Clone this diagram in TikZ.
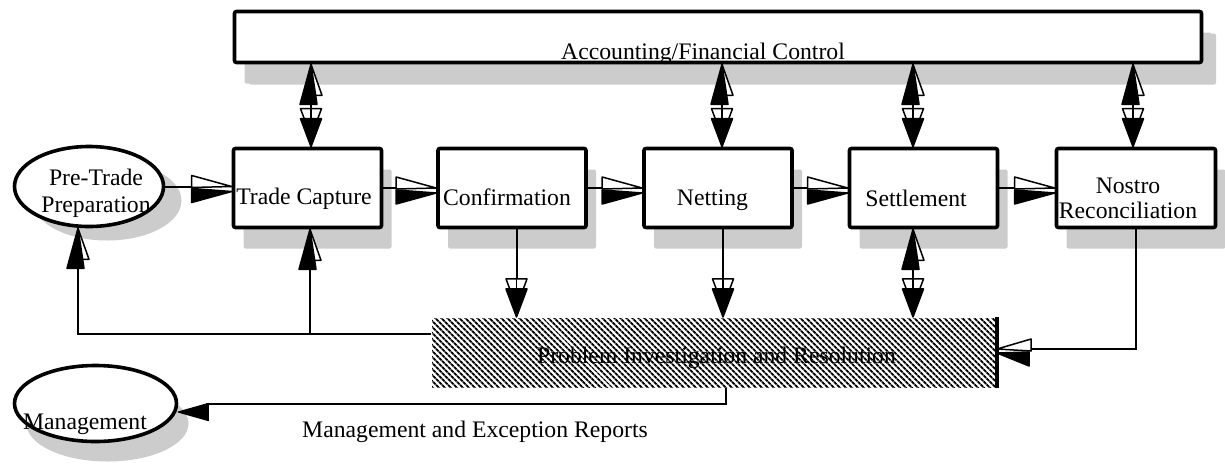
\documentclass[tikz,border=0pt]{standalone}
\usepackage{fontspec}
\setmainfont{Liberation Serif}
\usetikzlibrary{shapes.geometric,shadows,patterns.meta,arrows.meta}
\definecolor{shade}{HTML}{CCCCCC}

% right-pointing pair: open white head above, black head below
\pgfdeclarearrow{
  name = PairA,
  setup code = {
    \pgfarrowssettipend{0pt}
    \pgfarrowssetlineend{-38pt}
    \pgfarrowssetbackend{-40pt}
    \pgfarrowssetvisualbackend{-40pt}
  },
  drawing code = {
    \pgfsetlinewidth{1.5pt}\pgfsetroundjoin
    \pgfpathmoveto{\pgfqpoint{0pt}{0pt}}
    \pgfpathlineto{\pgfqpoint{-40pt}{11pt}}
    \pgfpathlineto{\pgfqpoint{-40pt}{-1pt}}
    \pgfpathclose
    \pgfsetfillcolor{white}
    \pgfusepathqfillstroke
    \pgfpathmoveto{\pgfqpoint{0pt}{-5pt}}
    \pgfpathlineto{\pgfqpoint{-40pt}{-2pt}}
    \pgfpathlineto{\pgfqpoint{-40pt}{-16pt}}
    \pgfpathclose
    \pgfsetfillcolor{black}
    \pgfusepathqfillstroke
  },
  parameters = {}
}
% mirrored pair
\pgfdeclarearrow{
  name = PairAm,
  setup code = {
    \pgfarrowssettipend{0pt}
    \pgfarrowssetlineend{-32pt}
    \pgfarrowssetbackend{-34pt}
    \pgfarrowssetvisualbackend{-34pt}
  },
  drawing code = {
    \pgfsetlinewidth{1.5pt}\pgfsetroundjoin
    \pgfpathmoveto{\pgfqpoint{0pt}{0pt}}
    \pgfpathlineto{\pgfqpoint{-34pt}{-10pt}}
    \pgfpathlineto{\pgfqpoint{-34pt}{2pt}}
    \pgfpathclose
    \pgfsetfillcolor{white}
    \pgfusepathqfillstroke
    \pgfpathmoveto{\pgfqpoint{0pt}{4pt}}
    \pgfpathlineto{\pgfqpoint{-32pt}{3pt}}
    \pgfpathlineto{\pgfqpoint{-32pt}{17pt}}
    \pgfpathclose
    \pgfsetfillcolor{black}
    \pgfusepathqfillstroke
  },
  parameters = {}
}
% up-pointing pair: black head, open white head to its right
\pgfdeclarearrow{
  name = PairB,
  setup code = {
    \pgfarrowssettipend{0pt}
    \pgfarrowssetlineend{-30pt}
    \pgfarrowssetbackend{-40pt}
    \pgfarrowssetvisualbackend{-40pt}
  },
  drawing code = {
    \pgfsetlinewidth{1.5pt}\pgfsetroundjoin
    \pgfpathmoveto{\pgfqpoint{0pt}{0pt}}
    \pgfpathlineto{\pgfqpoint{-31pt}{-1pt}}
    \pgfpathlineto{\pgfqpoint{-31pt}{-11pt}}
    \pgfpathclose
    \pgfsetfillcolor{white}
    \pgfusepathqfillstroke
    \pgfpathmoveto{\pgfqpoint{0pt}{0pt}}
    \pgfpathlineto{\pgfqpoint{-40pt}{11pt}}
    \pgfpathlineto{\pgfqpoint{-40pt}{-6pt}}
    \pgfpathclose
    \pgfsetfillcolor{black}
    \pgfusepathqfillstroke
  },
  parameters = {}
}
% down-pointing pair: open white head behind black head
\pgfdeclarearrow{
  name = PairC,
  setup code = {
    \pgfarrowssettipend{0pt}
    \pgfarrowssetlineend{-38pt}
    \pgfarrowssetbackend{-38pt}
    \pgfarrowssetvisualbackend{-38pt}
  },
  drawing code = {
    \pgfsetlinewidth{1.5pt}\pgfsetroundjoin
    \pgfpathmoveto{\pgfqpoint{-10pt}{0pt}}
    \pgfpathlineto{\pgfqpoint{-38pt}{10.5pt}}
    \pgfpathlineto{\pgfqpoint{-38pt}{-10.5pt}}
    \pgfpathclose
    \pgfsetfillcolor{white}
    \pgfusepathqfillstroke
    \pgfpathmoveto{\pgfqpoint{-38pt}{0pt}}
    \pgfpathlineto{\pgfqpoint{-26pt}{0pt}}
    \pgfusepathqstroke
    \pgfpathmoveto{\pgfqpoint{0pt}{0pt}}
    \pgfpathlineto{\pgfqpoint{-28pt}{10.5pt}}
    \pgfpathlineto{\pgfqpoint{-28pt}{-10.5pt}}
    \pgfpathclose
    \pgfsetfillcolor{black}
    \pgfusepathqfillstroke
  },
  parameters = {}
}
% single black head, set below the line
\pgfdeclarearrow{
  name = Solo,
  setup code = {
    \pgfarrowssettipend{0pt}
    \pgfarrowssetlineend{-28pt}
    \pgfarrowssetbackend{-30pt}
    \pgfarrowssetvisualbackend{-30pt}
  },
  drawing code = {
    \pgfsetlinewidth{1.2pt}\pgfsetroundjoin
    \pgfpathmoveto{\pgfqpoint{0pt}{8.5pt}}
    \pgfpathlineto{\pgfqpoint{-30pt}{0pt}}
    \pgfpathlineto{\pgfqpoint{-30pt}{17pt}}
    \pgfpathclose
    \pgfsetfillcolor{black}
    \pgfusepathqfillstroke
  },
  parameters = {}
}

\newcommand\placetext[3]{\raisebox{-#2}[0pt][0pt]{\makebox[0pt]{\hspace*{#1}\hspace*{#1}#3}}}

\begin{document}
\begin{tikzpicture}[x=1pt,y=-1pt,
  every node/.style={font=\fontsize{23.7pt}{25pt}\selectfont, inner sep=0pt},
  proc/.style={draw, line width=3.6pt, rounded corners=2pt, fill=white,
     minimum width=148pt, minimum height=79pt,
     general shadow={fill=shade, shadow xshift=10pt, shadow yshift=-21pt}},
  oval/.style={ellipse, draw, line width=3.6pt, fill=white},
  conn/.style={line width=2pt}]
\useasboundingbox (0,0) rectangle (1225,464);

\node[proc, minimum width=967pt, minimum height=51pt,
      general shadow={fill=shade, shadow xshift=14.5pt, shadow yshift=-22pt}]
  (acc) at (718,37) {\placetext{-15pt}{22pt}{Accounting/Financial Control}};

\node[oval, minimum width=149pt, minimum height=80pt,
      general shadow={fill=shade, shadow xshift=18pt, shadow yshift=-14pt}]
  (pre) at (89,186.5) {\placetext{7pt}{25.5pt}{\begin{tabular}[b]{@{}c@{}}Pre-Trade\\[2pt]Preparation\end{tabular}}};

\node[proc] (tc)   at (307.5,188) {\placetext{-3.5pt}{16pt}{Trade Capture}};
\node[proc] (conf) at (512,188)   {\placetext{-5pt}{17pt}{Confirmation}};
\node[proc] (net)  at (718,188)   {\placetext{-5.5pt}{17pt}{Netting}};
\node[proc] (set)  at (923.5,188) {\placetext{-7.5pt}{18pt}{Settlement}};
\node[proc, minimum width=159pt] (nos) at (1136,188)
  {\placetext{-8pt}{30pt}{\begin{tabular}[b]{@{}c@{}}Nostro\\Reconciliation\end{tabular}}};

\node[pattern={Lines[angle=-45,distance=4pt,line width=2.1pt]},
      minimum width=564pt, minimum height=69pt]
  (hatch) at (714,352.5) {\placetext{2.5pt}{10.5pt}{Problem Investigation and Resolution}};
\draw[line width=3.2pt] (hatch.north east) -- (hatch.south east);

\node[oval, minimum width=162pt, minimum height=76pt,
      general shadow={fill=shade, shadow xshift=12pt, shadow yshift=-20pt}]
  (mgmt) at (95.5,403.5) {\placetext{-10.5pt}{25.5pt}{Management}};

\node[anchor=base] (mer) at (475,437) {Management and Exception Reports};

% flow along the top row
\draw[conn,-PairA] (pre.east) -- (pre.east -| tc.west);
\draw[conn,-PairA] (tc.east) -- (conf.west);
\draw[conn,-PairA] (conf.east) -- (net.west);
\draw[conn,-PairA] (net.east) -- (set.west);
\draw[conn,-PairA] (set.east) -- (nos.west);

% links with accounting
\coordinate (tcu) at ([xshift=3.5pt]tc.north);
\coordinate (netu) at ([xshift=4pt]net.north);
\coordinate (setu) at ([xshift=-10.5pt]set.north);
\coordinate (nosu) at ([xshift=-3pt]nos.north);
\draw[conn,PairC-PairB] (tcu) -- (tcu |- acc.south);
\draw[conn,PairC-PairB] (netu) -- (netu |- acc.south);
\draw[conn,PairC-PairB] (setu) -- (setu |- acc.south);
\draw[conn,PairC-PairB] (nosu) -- (nosu |- acc.south);

% links with problem investigation
\coordinate (confd) at ([xshift=4.5pt]conf.south);
\coordinate (netd) at ([xshift=5pt]net.south);
\coordinate (setd) at ([xshift=-10.5pt]set.south);
\draw[conn,-PairC] (confd) -- (confd |- hatch.north);
\draw[conn,-PairC] (netd) -- (netd |- hatch.north);
\draw[conn,PairB-PairC] (setd) -- (setd |- hatch.north);

\coordinate (nin) at ([yshift=3.5pt]hatch.east);
\draw[conn,-PairAm] (nos.south) |- (nin);

% feedback
\coordinate (fbR) at ([yshift=18.5pt]hatch.west);
\coordinate (ppin) at ([xshift=-11pt]pre.south);
\coordinate (fbM) at (310,334);
\draw[conn,-PairB] (fbR) -| (ppin);
\draw[conn,-PairB] (fbM) -- (fbM |- tc.south);

% reports to management
\coordinate (mout) at ([xshift=12pt]hatch.south);
\draw[conn,-Solo] (mout) |- (mgmt.east);
\end{tikzpicture}
\end{document}
